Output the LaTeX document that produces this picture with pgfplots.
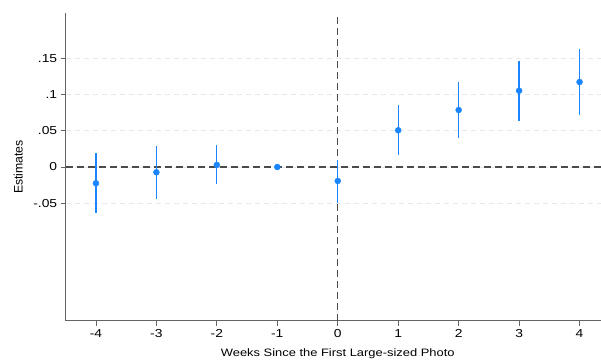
\documentclass[border=0pt]{standalone}
\usepackage{pgfplots}
\pgfplotsset{compat=1.18}
\usepackage{pgfplotstable}
\usepackage{fontspec}
\setmainfont{Liberation Sans}[FakeStretch=1.2]
\newfontfamily\ylabfont{Liberation Sans}

\definecolor{stcone}{RGB}{26,133,255}
\definecolor{axgray}{RGB}{100,100,100}
\definecolor{refgray}{RGB}{75,75,75}
\definecolor{gridgray}{RGB}{232,232,232}

% event-time coefficients: estimate, upper and lower CI distances
\pgfplotstableread{
x   y        ep      em
-4  -0.0225  0.0418  0.0415
-3  -0.0073  0.0368  0.0364
-2   0.0028  0.0276  0.0263
-1   0.0000  0.0000  0.0000
 0  -0.0193  0.0286  0.0307
 1   0.0507  0.0345  0.0345
 2   0.0787  0.0383  0.0391
 3   0.1054  0.0414  0.0414
 4   0.1174  0.0452  0.0456
}\est

\begin{document}
\begin{tikzpicture}
\begin{axis}[
  at={(0,0)}, anchor=south west,
  scale only axis,
  width=544.1bp, height=307.4bp,
  xmin=-4.5, xmax=4.5,
  ymin=-0.2123, ymax=0.2123,
  axis x line*=bottom, axis y line*=left,
  axis line style={-, axgray, line width=0.9bp},
  xtick={-4,-3,-2,-1,0,1,2,3,4},
  xticklabels={-4,-3,-2,-1,0,1,2,3,4},
  ytick={-0.05,0,0.05,0.1,0.15},
  yticklabels={-.05,0,.05,.1,.15},
  tick align=outside,
  major tick length=5bp,
  tick style={axgray, line width=0.8bp},
  ticklabel style={font=\fontsize{11.6}{14}\selectfont, text=black},
  ymajorgrids,
  grid style={gridgray, line width=1bp, dash pattern=on 5.5bp off 3.5bp},
  xlabel={Weeks Since the First Large-sized Photo},
  xlabel style={at={(axis description cs:0.5,0)}, anchor=base, yshift=-36bp,
    font=\fontsize{10.8}{13}\selectfont},
  ylabel={\ylabfont\fontsize{12.3}{14}\selectfont Estimates},
  ylabel style={at={(axis description cs:-0.07903,0.5)}, anchor=base, rotate=0},
  clip=false,
]
% reference lines at zero
\draw[refgray, line width=1.3bp, dash pattern=on 7bp off 4bp]
  (axis cs:-4.5,0) -- (axis cs:4.5,0);
\draw[refgray, line width=1.3bp, dash pattern=on 7bp off 4bp]
  (axis cs:0,-0.2123) -- (axis cs:0,0.2123);

\addplot[only marks, mark=*, color=stcone, mark size=3bp,
  mark options={fill=stcone, draw=stcone},
  error bars/.cd, y dir=both, y explicit, error mark=none,
  error bar style={line width=1.25bp, stcone}]
  table[x=x, y=y, y error plus=ep, y error minus=em] {\est};
\end{axis}
\pgfresetboundingbox
\path[use as bounding box] (-65.7bp,-39.3bp) rectangle (535.3bp,320.7bp);
\end{tikzpicture}
\end{document}
